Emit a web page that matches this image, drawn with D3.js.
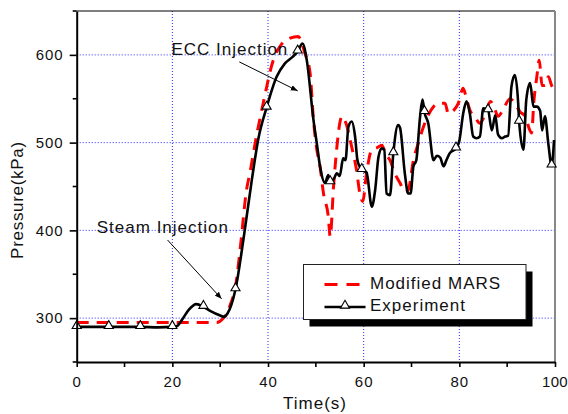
<!DOCTYPE html>
<html>
<head>
<meta charset="utf-8">
<script src="https://cdn.jsdelivr.net/npm/d3@7"></script>
<style>
  html, body { margin: 0; padding: 0; background: #fff; }
  svg { display: block; }
  text { font-family: Arial, "Liberation Sans", sans-serif; fill: #111; }
</style>
</head>
<body>
<svg id="chart" width="568" height="414"></svg>
<script>
// ---------------- data ----------------
const expTime = [0, 3, 6.7, 10, 13.3, 17, 20, 21, 22, 23.5, 25, 26.5, 28, 30, 30.8, 31.5, 33.2, 35, 36.6, 38, 39.7,
  41.8, 43.5, 45.2, 46.2, 47.2, 48.1, 49.5, 50.2, 50.9, 51.9, 52.6, 53, 53.7, 54.4, 55, 55.7, 56.2, 56.8, 57.5,
  58.2, 58.7, 59.6, 60.6, 61.7, 62.4, 63.1, 63.8, 64.3, 64.8, 65.5, 66.2, 67.2, 67.6, 68.6, 69.3, 69.8, 70.4,
  71, 71.8, 72.3, 72.7, 73.5, 74.6, 75.3, 76, 76.7, 77.3, 78, 79.3, 80, 80.8, 81.5, 82.2, 82.9, 83.6, 84.3,
  85, 86, 86.8, 87.5, 88.1, 88.9, 89.6, 90.2, 90.9, 91.6, 92.3, 92.5, 93.4, 94, 94.8, 95.5, 96.2, 96.9, 97.3,
  97.9, 98.6, 99.3, 99.8];
const expPressure = [290, 290, 290, 290, 290, 289.5, 290, 291, 298, 310, 316, 313, 308, 303, 301.5, 305, 333, 395, 457, 505, 540,
  575, 590, 598, 604, 613, 594, 526, 499, 472, 454, 463, 455, 458, 465, 462, 482, 480, 518, 524,
  507, 480, 469, 466, 427, 446, 484, 493.5, 492, 442, 440, 488, 520, 517, 465, 442, 442, 473,
  480, 530, 549, 535, 522, 480, 485, 483, 473, 480, 488, 493.5, 502, 533, 547, 533, 507, 505, 507,
  539, 537, 514, 531, 509, 505, 507, 508, 564, 577, 545, 524, 492, 549, 568, 541, 541, 536, 514,
  530, 499, 474, 503];
const expMarkerTimes = [0, 6.7, 13.3, 20, 26.5, 33.2, 39.7, 46.2, 53, 59.6, 66.2, 72.7, 79.3, 86, 92.5, 99.3];

const marsTime = [0, 10, 20, 29.3, 30.5, 31.4, 32.3, 33.2, 34.3, 35.5, 36.2, 37.5, 39, 41.1, 42.8, 44.6, 46.3, 47.7,
  48.8, 49.5, 50.2, 50.9, 51.6, 52.6, 53, 53.7, 54.4, 55, 55.5, 56.3, 57.5, 58.5, 59.2, 59.8, 60.6, 61.7, 62.7,
  63.8, 64.6, 65.5, 66.5, 67.6, 68.6, 69.3, 70.4, 71.4, 72.5, 73.5, 74.6, 75.9, 77, 77.7, 78.7, 79.8, 80.8,
  81.5, 82.2, 83.2, 84.3, 85.3, 86.5, 87.3, 88.1, 89, 90.6, 91.6, 92.7, 93.8, 94.6, 95.1, 95.6, 96.2, 96.7,
  97.3, 97.9, 98.6, 99.3, 100];
const marsPressure = [295, 295, 295, 295, 299, 306, 318, 336, 385, 446, 465, 505, 545, 594, 612, 619, 621, 602,
  579, 526, 492, 472, 442, 416, 393, 450, 495, 522, 530, 522, 495, 469, 442, 433, 465, 492, 494,
  497, 487, 480, 465, 454, 444, 446, 480, 499, 518, 531.5, 541, 545, 545, 533, 536, 545, 562,
  550, 537, 530, 522, 531, 547, 540, 530, 536, 550, 545, 535, 530, 516, 511, 548, 575, 594,
  565, 565, 575, 565, 558];

const xMajorTicks = [0, 20, 40, 60, 80, 100];
const xMinorTicks = [10, 30, 50, 70, 90];
const yMajorTicks = [300, 400, 500, 600];
const yMinorTicks = [250, 350, 450, 550, 650];
const xGrid = [20, 40, 60, 80];
const yGrid = [300, 400, 500, 600];
const seriesNames = ["Modified MARS", "Experiment"];
const annotations = [
  { text: "ECC Injection", tx: 19.8, tp: 600, from: [34.0, 592], to: [46.2, 559] },
  { text: "Steam Injection", tx: 4.2, tp: 397, from: [19.0, 389], to: [30.3, 322] }
];

// ---------------- layout ----------------
const svg = d3.select("#chart");
const x = d3.scaleLinear().domain([0, 100]).range([76.7, 555]);
const y = d3.scaleLinear().domain([250, 650]).range([362, 11]);

const defs = svg.append("defs");
defs.append("marker").attr("id", "arrow").attr("viewBox", "0 0 10 10")
  .attr("refX", 10).attr("refY", 5).attr("markerWidth", 7).attr("markerHeight", 7)
  .attr("markerUnits", "userSpaceOnUse").attr("orient", "auto")
  .append("path").attr("d", "M0,1 L10,5 L0,9 Z").attr("fill", "#000");
defs.append("clipPath").attr("id", "plotclip").append("rect")
  .attr("x", x(0)).attr("y", y(650) - 6).attr("width", x(100) - x(0) + 6).attr("height", y(250) - y(650) + 6);

// grid
const grid = svg.append("g");
grid.selectAll("line.gx").data(xGrid).join("line")
  .attr("x1", d => x(d)).attr("x2", d => x(d)).attr("y1", y(650)).attr("y2", y(250))
  .attr("stroke", "#2a2aff").attr("stroke-width", 1).attr("stroke-dasharray", "1,2");
grid.selectAll("line.gy").data(yGrid).join("line")
  .attr("x1", x(0)).attr("x2", x(100)).attr("y1", d => y(d)).attr("y2", d => y(d))
  .attr("stroke", "#2a2aff").attr("stroke-width", 1).attr("stroke-dasharray", "1,2");

// frame top/right
svg.append("line").attr("x1", x(0)).attr("x2", x(100)).attr("y1", y(650)).attr("y2", y(650))
  .attr("stroke", "#000").attr("stroke-width", 1.2);
svg.append("line").attr("x1", x(100)).attr("x2", x(100)).attr("y1", y(650)).attr("y2", y(250))
  .attr("stroke", "#888").attr("stroke-width", 2);

// series
const expData = expTime.map((t, i) => ({ t, p: expPressure[i] }));
const marsData = marsTime.map((t, i) => ({ t, p: marsPressure[i] }));
const plot = svg.append("g").attr("clip-path", "url(#plotclip)");

plot.append("path").datum(marsData)
  .attr("d", d3.line().x(d => x(d.t)).y(d => y(d.p)).curve(d3.curveMonotoneX))
  .attr("fill", "none").attr("stroke", "#ff0000").attr("stroke-width", 3)
  .attr("stroke-dasharray", "12,8");

plot.append("path").datum(expData)
  .attr("d", d3.line().x(d => x(d.t)).y(d => y(d.p)).curve(d3.curveMonotoneX))
  .attr("fill", "none").attr("stroke", "#000").attr("stroke-width", 2.6).attr("stroke-linejoin", "round");

const markerData = expMarkerTimes.map(mt => {
  let best = expData[0];
  expData.forEach(d => { if (Math.abs(d.t - mt) < Math.abs(best.t - mt)) best = d; });
  return best;
});
const tri = d3.symbol().type(d3.symbolTriangle).size(36);
svg.append("g").selectAll("path").data(markerData).join("path")
  .attr("d", tri).attr("transform", d => `translate(${x(d.t)},${y(d.p) - 1})`)
  .attr("fill", "#fff").attr("stroke", "#000").attr("stroke-width", 1.1);

// axes
const xAxis = svg.append("g").attr("transform", `translate(0,${y(250)})`)
  .call(d3.axisBottom(x).tickValues(xMajorTicks).tickSize(5).tickSizeOuter(0).tickPadding(9));
xAxis.append("g").selectAll("line").data(xMinorTicks).join("line")
  .attr("x1", d => x(d)).attr("x2", d => x(d)).attr("y1", 0).attr("y2", 5).attr("stroke", "#000").attr("stroke-width", 1.6);
const yAxis = svg.append("g").attr("transform", `translate(${x(0)},0)`)
  .call(d3.axisLeft(y).tickValues(yMajorTicks).tickSize(7).tickSizeOuter(0).tickPadding(6));
yAxis.append("g").selectAll("line").data(yMinorTicks).join("line")
  .attr("x1", -4).attr("x2", 0).attr("y1", d => y(d)).attr("y2", d => y(d)).attr("stroke", "#000").attr("stroke-width", 1.6);
[xAxis, yAxis].forEach(a => {
  a.select(".domain").attr("stroke", "#000").attr("stroke-width", 2);
  a.selectAll(".tick line").attr("stroke", "#000").attr("stroke-width", 1.6);
  a.selectAll(".tick text").style("font-family", "Arial, 'Liberation Sans', sans-serif")
    .style("font-size", "15px").style("letter-spacing", "1px").attr("fill", "#111");
});
xAxis.selectAll(".tick text").attr("dy", "0.71em");
// keep the last x label inside the picture
xAxis.selectAll(".tick").filter(d => d === 100).select("text")
  .style("letter-spacing", "0.3px").attr("text-anchor", "end").attr("dx", 12.5);

// axis titles
svg.append("text").attr("x", 315).attr("y", 409).attr("text-anchor", "middle")
  .style("font-size", "17px").style("letter-spacing", "1px").text("Time(s)");
svg.append("text").attr("transform", "translate(23,200) rotate(-90)").attr("text-anchor", "middle")
  .style("font-size", "17px").style("letter-spacing", "0.7px").text("Pressure(kPa)");

// annotations
annotations.forEach(a => {
  svg.append("line").attr("x1", x(a.from[0])).attr("y1", y(a.from[1]))
    .attr("x2", x(a.to[0])).attr("y2", y(a.to[1]))
    .attr("stroke", "#000").attr("stroke-width", 1).attr("marker-end", "url(#arrow)");
  svg.append("text").attr("x", x(a.tx)).attr("y", y(a.tp))
    .style("font-size", "17px").style("letter-spacing", "1px").text(a.text);
});

// legend
const lg = svg.append("g").attr("transform", "translate(303.5,264.5)");
lg.append("rect").attr("x", 6).attr("y", 7).attr("width", 223).attr("height", 55).attr("fill", "#000");
lg.append("rect").attr("x", 0).attr("y", 0).attr("width", 222.5).attr("height", 55)
  .attr("fill", "#fff").attr("stroke", "#222").attr("stroke-width", 1);
lg.append("line").attr("x1", 21).attr("x2", 56).attr("y1", 20).attr("y2", 20)
  .attr("stroke", "#ff0000").attr("stroke-width", 3).attr("stroke-dasharray", "13,9");
lg.append("line").attr("x1", 21).attr("x2", 62).attr("y1", 42.5).attr("y2", 42.5)
  .attr("stroke", "#000").attr("stroke-width", 2.6);
lg.append("path").attr("d", tri).attr("transform", "translate(41.5,41)")
  .attr("fill", "#fff").attr("stroke", "#000").attr("stroke-width", 1.1);
lg.selectAll("text.lt").data(seriesNames).join("text")
  .attr("x", 66.5).attr("y", (d, i) => 24.5 + i * 21.5)
  .style("font-size", "17px").style("letter-spacing", "1px").text(d => d);
</script>
</body>
</html>
